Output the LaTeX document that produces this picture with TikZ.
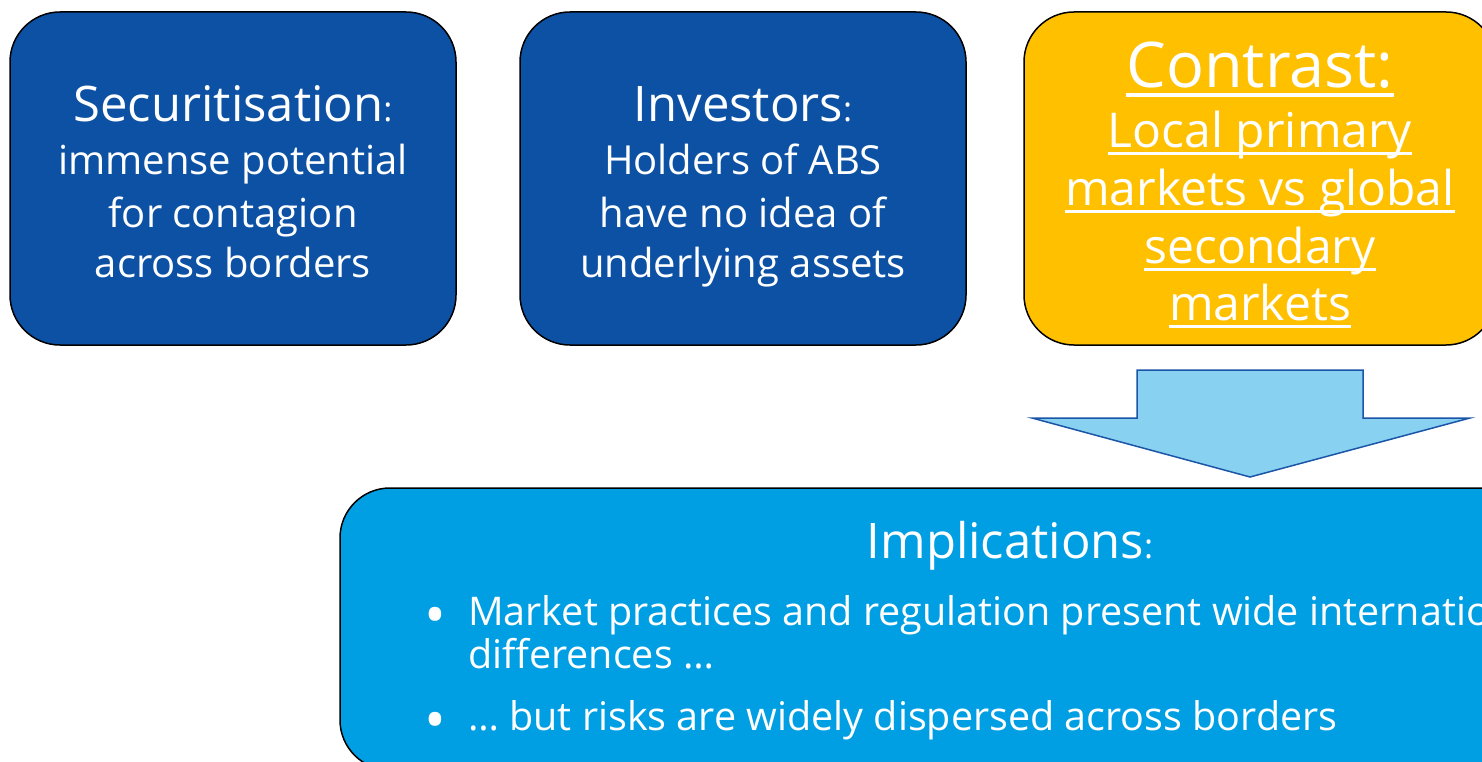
\documentclass[tikz,border=0pt]{standalone}
\usepackage{fontspec}
\setmainfont{Open Sans}
\definecolor{darkblue}{HTML}{0C51A4}
\definecolor{gold}{HTML}{FFC000}
\definecolor{skyblue}{HTML}{009FE3}
\definecolor{arrowfill}{HTML}{89D1F1}
\definecolor{arrowline}{HTML}{1A55A8}
\newcommand{\bodyfont}{\fontsize{40}{48}\selectfont}
\newcommand{\titlefont}{\fontsize{49}{56}\selectfont}
\newcommand{\colonfont}{\fontsize{34}{40}\selectfont}
\newcommand{\bulletfont}{\fontsize{39.5}{46}\selectfont}
\begin{document}
\begin{tikzpicture}[x=1pt,y=-1pt,
  roundbox/.style={draw=black, line width=1.5pt, rounded corners=50pt, inner sep=0pt},
  txt/.style={text=white, inner sep=0pt, anchor=base},
  ctxt/.style={txt, font=\fontsize{48}{56}\selectfont},
  btxt/.style={txt, anchor=base west, font=\bulletfont},
  dot/.style={text=white, inner sep=0pt, anchor=center, font=\fontsize{58}{58}\selectfont},
  uline/.style={draw=white, line width=3pt},
  blockarrow/.style={fill=arrowfill, draw=arrowline, line width=1.5pt, line join=miter}]
\useasboundingbox (0,0) rectangle (1482,762);
\clip (0,0) rectangle (1482,762);
% boxes
\node[roundbox, fill=darkblue, minimum width=446pt, minimum height=333pt] (sec) at (233,178.5) {};
\node[roundbox, fill=darkblue, minimum width=446pt, minimum height=333pt] (inv) at (743,178.5) {};
\node[roundbox, fill=gold, minimum width=472pt, minimum height=333pt] (con) at (1260,178.5) {};
\node[roundbox, fill=skyblue, minimum width=1340pt, minimum height=282pt] (imp) at (1010,629) {};
% block arrow
\draw[blockarrow] (1137,370) -- (1363,370) -- (1363,418) -- (1470,418) -- (1250,477)
  -- (1032,418) -- (1137,418) -- cycle;
% box 1 text
\node[txt, font=\titlefont] (s1) at (233,122) {Securitisation{\colonfont:}};
\node[txt, font=\bodyfont] (s2) at (233,175) {immense potential};
\node[txt, font=\bodyfont] (s3) at (233,227) {for contagion};
\node[txt, font=\bodyfont] (s4) at (233,277) {across borders};
% box 2 text
\node[txt, font=\titlefont] (i1) at (743,122) {Investors{\colonfont:}};
\node[txt, font=\bodyfont] (i2) at (743,175) {Holders of ABS};
\node[txt, font=\bodyfont] (i3) at (743,227) {have no idea of};
\node[txt, font=\bodyfont] (i4) at (743,277) {underlying assets};
% box 3 text
\node[txt, font=\fontsize{63}{70}\selectfont] (c1) at (1260,88) {Contrast:};
\node[ctxt] (c2) at (1260,148) {Local primary};
\node[ctxt] (c3) at (1260,205) {markets vs global};
\node[ctxt] (c4) at (1260,263) {secondary};
\node[ctxt] (c5) at (1260,320) {markets};
\path[uline, line width=3.5pt] ([yshift=-7pt]c1.base west) -- ([yshift=-7pt]c1.base east);
\foreach \n in {c2,c3,c4,c5}
  \path[uline] ([yshift=-6pt]\n.base west) -- ([yshift=-6pt]\n.base east);
% box 4 text
\node[txt, font=\titlefont] (m1) at (1010,558) {Implications{\colonfont:}};
\node[dot] (b1) at (435,621) {•};
\node[btxt] (m2) at (468,625) {Market practices and regulation present wide international};
\node[btxt] (m3) at (468,668) {differences …};
\node[dot] (b2) at (435,726) {•};
\node[btxt] (m4) at (468,730) {… but risks are widely dispersed across borders};
\end{tikzpicture}
\end{document}
